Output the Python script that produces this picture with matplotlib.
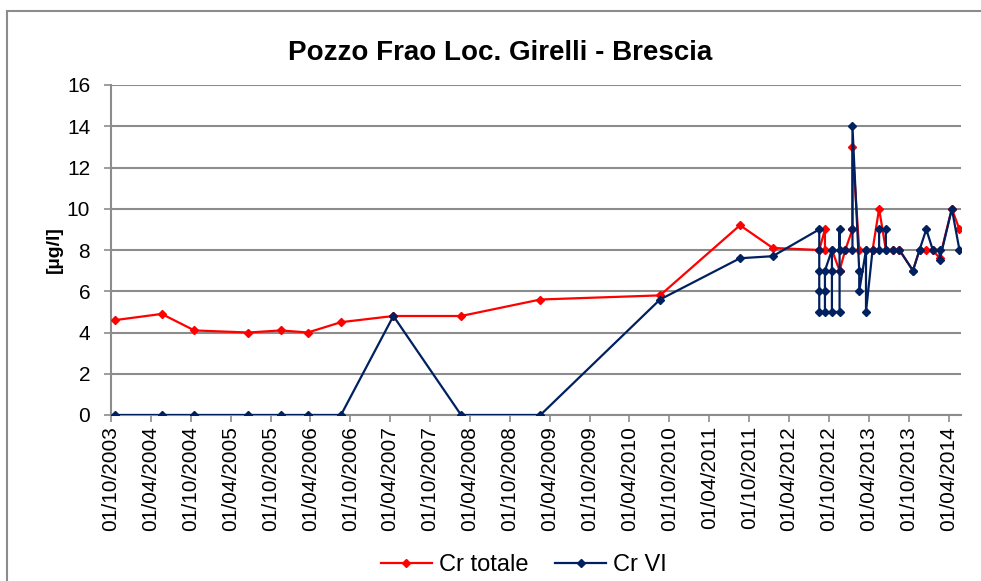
import matplotlib
matplotlib.use("Agg")
import matplotlib.pyplot as plt
import matplotlib.dates as mdates
import numpy as np
import pandas as pd

# Cr totale (red)
dates_tot = ["2003-10-19", "2004-05-20", "2004-10-17", "2005-06-21", "2005-11-17",
             "2006-03-20", "2006-08-19", "2007-04-16", "2008-02-20", "2009-02-17",
             "2010-08-19", "2011-08-20", "2012-01-17", "2012-08-17",
             "2012-09-12", "2012-09-12", "2012-10-14", "2012-11-18", "2012-12-14",
             "2013-01-16", "2013-01-16", "2013-02-16", "2013-03-19", "2013-04-18",
             "2013-05-18", "2013-06-18", "2013-07-19", "2013-08-19", "2013-10-20",
             "2013-11-19", "2013-12-20", "2014-01-19", "2014-02-19", "2014-04-16",
             "2014-05-21"]
cr_tot = [4.6, 4.9, 4.1, 4.0, 4.1,
          4.0, 4.5, 4.8, 4.8, 5.6,
          5.8, 9.2, 8.1, 8.0,
          9.0, 8.0, 8.0, 7.0, 8.0,
          9.0, 13.0, 8.0, 8.0, 8.0,
          10.0, 8.0, 8.0, 8.0, 7.0,
          8.0, 8.0, 8.0, 7.6, 10.0,
          9.0]

# Cr VI (dark blue)
dates_vi = ["2003-10-19", "2004-05-20", "2004-10-17", "2005-06-21", "2005-11-17",
            "2006-03-20", "2006-08-19", "2007-04-16", "2008-02-20", "2009-02-17",
            "2010-08-19", "2011-08-20", "2012-01-17",
            "2012-08-17", "2012-08-17", "2012-08-17", "2012-08-17", "2012-08-17",
            "2012-09-12", "2012-09-12", "2012-09-12",
            "2012-10-14", "2012-10-14", "2012-10-14",
            "2012-11-18", "2012-11-18", "2012-11-18", "2012-11-18",
            "2012-12-14",
            "2013-01-16", "2013-01-16", "2013-01-16",
            "2013-02-16", "2013-02-16",
            "2013-03-19", "2013-03-19",
            "2013-04-18",
            "2013-05-18", "2013-05-18",
            "2013-06-18", "2013-06-18",
            "2013-07-19", "2013-08-19", "2013-10-20", "2013-11-19", "2013-12-20",
            "2014-01-19", "2014-02-19", "2014-02-19", "2014-04-16", "2014-05-21"]
cr_vi = [0, 0, 0, 0, 0,
         0, 0, 4.8, 0, 0,
         5.6, 7.6, 7.7,
         9, 8, 7, 6, 5,
         5, 6, 7,
         8, 7, 5,
         5, 7, 9, 8,
         8,
         8, 9, 14,
         7, 6,
         8, 5,
         8,
         8, 9,
         9, 8,
         8, 8, 7, 8, 9,
         8, 8, 7.5, 10, 8]

x_start = "2003-10-01"
x_end = "2014-05-28"

red = "#FF0000"
navy = "#002060"
grid_gray = "#8C8C8C"

plt.rcParams['font.family'] = ['Liberation Sans', 'DejaVu Sans']

fig = plt.figure(figsize=(9.81, 5.81), dpi=100)
ax = fig.add_axes([111 / 981, 166 / 581, 850 / 981, 330 / 581])

# outer chart border (left and top visible)
fig.add_artist(plt.Line2D([7 / 981, 7 / 981], [0, 1 - 11 / 581], color="#8C8C8C", lw=1.5))
fig.add_artist(plt.Line2D([7 / 981, 1], [1 - 11 / 581, 1 - 11 / 581], color="#8C8C8C", lw=1.5))

ax.plot(pd.to_datetime(dates_tot), cr_tot, color=red, lw=1.6, marker="D",
        markersize=4.5, label="Cr totale", zorder=3)
ax.plot(pd.to_datetime(dates_vi), cr_vi, color=navy, lw=1.6, marker="D",
        markersize=4.5, label="Cr VI", zorder=4)

ax.set_xlim(pd.Timestamp(x_start), pd.Timestamp(x_end))
ax.set_ylim(0, 16)
ax.set_yticks(np.arange(0, 17, 2))
ax.xaxis.set_major_locator(mdates.MonthLocator(bymonth=[4, 10], bymonthday=1))
ax.xaxis.set_major_formatter(mdates.DateFormatter("%d/%m/%Y"))
plt.setp(ax.get_xticklabels(), rotation=90, ha="center", va="top")

ax.grid(axis="y", color=grid_gray, lw=1.5)
ax.set_axisbelow(True)
for s in ["top", "right"]:
    ax.spines[s].set_visible(False)
for s in ["left", "bottom"]:
    ax.spines[s].set_color(grid_gray)
    ax.spines[s].set_linewidth(1.5)
ax.tick_params(axis="both", colors=grid_gray, labelcolor="black", labelsize=15,
               length=5, width=1.2)
ax.tick_params(axis="x", pad=3)
ax.tick_params(axis="y", pad=10)

ax.set_ylabel("[µg/l]", fontsize=14, fontweight="bold", labelpad=3)
fig.text(500 / 981, 1 - 53 / 581, "Pozzo Frao Loc. Girelli - Brescia", fontsize=20,
         fontweight="bold", ha="center", va="center")

fig.legend(loc="center", bbox_to_anchor=(524 / 981, 16 / 581), ncol=2, frameon=False,
           fontsize=17, handlelength=2.15, columnspacing=1.15, handletextpad=0.3)

fig.savefig("out.png", dpi=100)
